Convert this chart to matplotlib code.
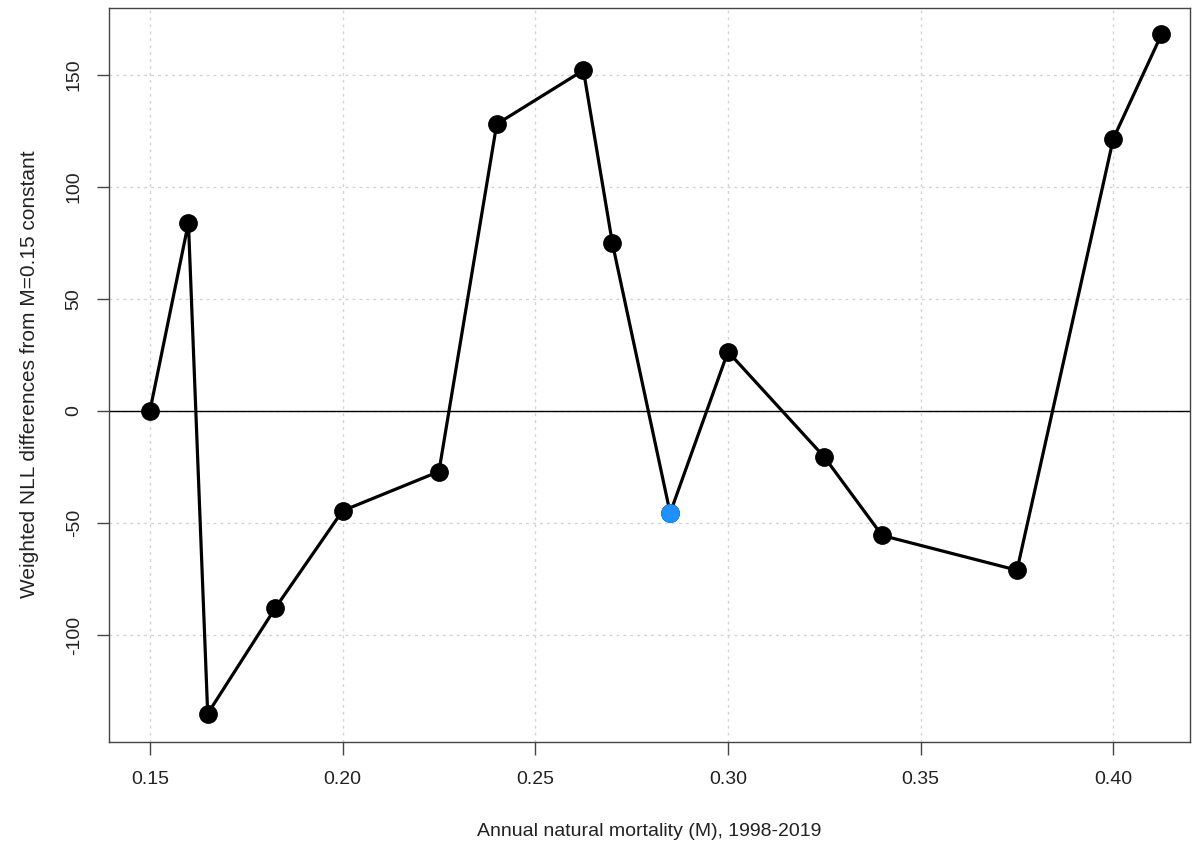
import numpy as np
import matplotlib.pyplot as plt

# natural mortality runs and NLL differences vs M=0.15
m_values = [0.15, 0.16, 0.165, 0.1825, 0.20, 0.225, 0.24, 0.2625,
            0.27, 0.285, 0.30, 0.325, 0.34, 0.375, 0.40, 0.4125]
nll_diff = [0, 84, -135, -88, -44.5, -27, 128, 152,
            75, -45.5, 26.5, -20.5, -55.5, -71, 121.5, 168]
best_idx = 9

x_ticks = [0.15, 0.20, 0.25, 0.30, 0.35, 0.40]
y_ticks = [-100, -50, 0, 50, 100, 150]

plt.rcParams['font.family'] = ['Liberation Sans', 'DejaVu Sans']

fig = plt.figure(figsize=(11.93, 8.46), dpi=100)
ax = fig.add_axes([0.0914, 0.1233, 0.9061, 0.8678])

for xt in x_ticks:
    ax.axvline(xt, color='#d3d3d3', lw=1, ls=(0, (2, 3)), zorder=0)
for yt in y_ticks:
    ax.axhline(yt, color='#d3d3d3', lw=1, ls=(0, (2, 3)), zorder=0)
ax.axhline(0, color='black', lw=1, zorder=1)

ax.plot(m_values, nll_diff, color='black', lw=2.3, marker='o', ms=12.5, zorder=2)
ax.plot(m_values[best_idx], nll_diff[best_idx], 'o', color='#1e90ff', ms=12.5, zorder=3)

ax.set_xlim(0.1394, 0.4199)
ax.set_ylim(-147.5, 180)
ax.set_xticks(x_ticks)
ax.set_xticklabels(['%.2f' % t for t in x_ticks])
ax.set_yticks(y_ticks)
ax.set_yticklabels([str(t) for t in y_ticks], rotation=90, va='center')

ax.tick_params(direction='out', length=9, width=1, color='#444444',
               labelsize=14, labelcolor='#222222')
ax.tick_params(axis='x', pad=12)
ax.tick_params(axis='y', pad=10)
for s in ax.spines.values():
    s.set_color('#444444')
    s.set_linewidth(1)

ax.set_xlabel('Annual natural mortality (M), 1998-2019', fontsize=14,
              color='#222222', labelpad=25)
ax.set_ylabel('Weighted NLL differences from M=0.15 constant', fontsize=15,
              color='#222222', labelpad=19)

fig.savefig('out.png', dpi=100)
